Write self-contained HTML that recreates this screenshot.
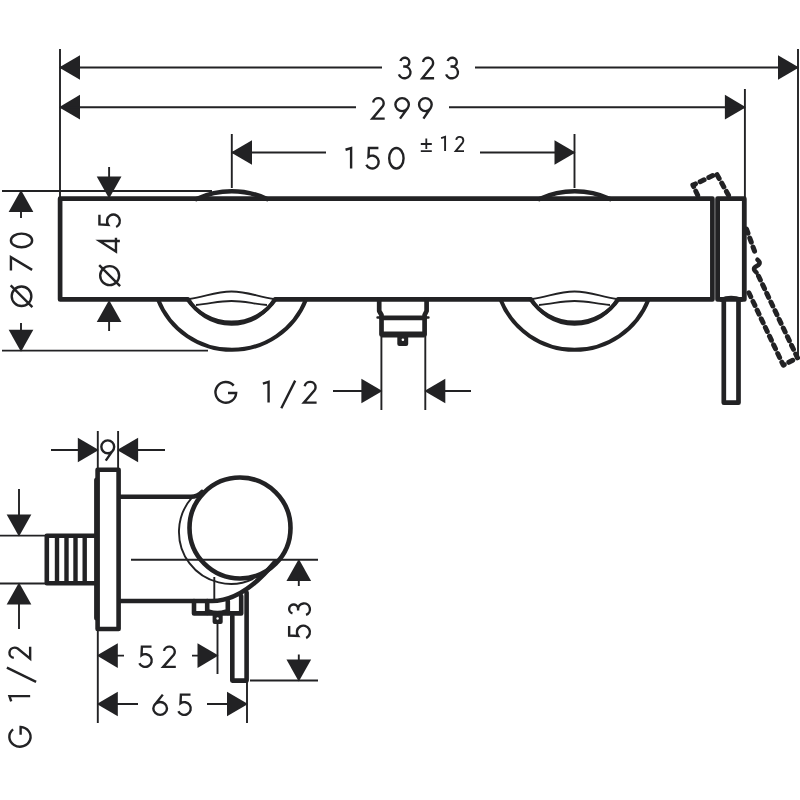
<!DOCTYPE html>
<html><head><meta charset="utf-8">
<style>
html,body{margin:0;padding:0;background:#fff;}
svg{display:block;}
text{font-family:"Liberation Sans",sans-serif;fill:#222224;}
</style></head>
<body>
<svg width="800" height="800" viewBox="0 0 800 800">
<rect width="800" height="800" fill="#fff"/>
<g fill="#222224" stroke="none">
  <path transform="translate(60,67.5)" d="M-1,0 L20,-12.35 L20,12.35 Z"/>
  <path transform="translate(798,67.5)" d="M1,0 L-20,-12.35 L-20,12.35 Z"/>
  <path transform="translate(60,107.2)" d="M-1,0 L20,-12.35 L20,12.35 Z"/>
  <path transform="translate(744.9,107.2)" d="M1,0 L-20,-12.35 L-20,12.35 Z"/>
  <path transform="translate(232,152.5)" d="M-1,0 L20,-12.35 L20,12.35 Z"/>
  <path transform="translate(574.5,152.5)" d="M1,0 L-20,-12.35 L-20,12.35 Z"/>
  <path transform="translate(21,191)" d="M0,-1 L-12.35,21 L12.35,21 Z"/>
  <path transform="translate(21,350.8)" d="M0,1 L-12.35,-21 L12.35,-21 Z"/>
  <path transform="translate(109.1,197.5)" d="M0,1 L-12.35,-21 L12.35,-21 Z"/>
  <path transform="translate(109.1,301)" d="M0,-1 L-12.35,21 L12.35,21 Z"/>
  <path transform="translate(381.4,391)" d="M1,0 L-20,-12.35 L-20,12.35 Z"/>
  <path transform="translate(425.3,391)" d="M-1,0 L20,-12.35 L20,12.35 Z"/>
  <path transform="translate(97.8,450)" d="M1,0 L-20,-12.35 L-20,12.35 Z"/>
  <path transform="translate(118.1,450)" d="M-1,0 L20,-12.35 L20,12.35 Z"/>
  <path transform="translate(19,535.5)" d="M0,1 L-12.35,-21 L12.35,-21 Z"/>
  <path transform="translate(19,583.5)" d="M0,-1 L-12.35,21 L12.35,21 Z"/>
  <path transform="translate(97.8,655.6)" d="M-1,0 L20,-12.35 L20,12.35 Z"/>
  <path transform="translate(217.5,655.6)" d="M1,0 L-20,-12.35 L-20,12.35 Z"/>
  <path transform="translate(97.8,704)" d="M-1,0 L20,-12.35 L20,12.35 Z"/>
  <path transform="translate(247,704)" d="M1,0 L-20,-12.35 L-20,12.35 Z"/>
  <path transform="translate(298.8,560)" d="M0,-1 L-12.35,21 L12.35,21 Z"/>
  <path transform="translate(298.8,680.5)" d="M0,1 L-12.35,-21 L12.35,-21 Z"/>
</g>

<!-- thin lines -->
<g stroke="#222224" stroke-width="1.9" fill="none">
  <path d="M60,49V199 M798,49V356 M744.9,89V199 M231.8,134V188 M574.5,134V188"/>
  <path d="M2,191H212 M2,350.6H208"/>
  <path d="M60,67.5H382 M475,67.5H798 M60,107.2H356 M449,107.2H744.9 M232,152.5H326 M480,152.5H574.5"/>
  <path d="M21,211V218 M21,323V331 M109.1,167V178 M109.1,321V331"/>
  <path d="M381.4,334V410 M425.3,334V410 M333,391H362 M444,391H471"/>
  <path d="M97.8,431V468 M118.1,431V468 M51,450H78 M138,450H165"/>
  <path d="M0,535.6H45 M0,583.5H45 M19,489V516 M19,603V629"/>
  <path d="M97.8,630V723 M217.5,623V674 M247,682V723"/>
  <path d="M117,655.6H124 M192,655.6H198 M117,704H138 M207,704H227"/>
  <path d="M298.8,578V586 M298.8,654.5V662 M250,680.5H318"/>
  <path d="M131,559.8H318 M214.3,577V601"/>
</g>

<!-- thick outlines top view -->
<g stroke="#222224" stroke-width="4.7" fill="none" stroke-linejoin="round" stroke-linecap="round">
  <path d="M187.5,299.4 H60.1 V198.7 H712.4 V299.4 H618.5 M530.5,299.4 H275.5"/>
  <!-- knob 1 -->
  <path d="M196.5,199 A84.5,84.5 0 0 1 267,199" stroke-width="4.6"/>
  <path d="M158,299.4 A79.5,79.5 0 0 0 306,299.4" stroke-width="4"/>
  <path d="M187.5,299.4 A53.45,53.45 0 0 0 275.5,299.4" stroke-width="3.8"/>
  <path d="M188.5,299.4 A50,50 0 0 0 274.5,299.4" stroke-width="3.8"/>
  <!-- knob 2 -->
  <path d="M539.5,199 A84.5,84.5 0 0 1 610,199" stroke-width="4.6"/>
  <path d="M500.5,299.4 A79.5,79.5 0 0 0 648.5,299.4" stroke-width="4"/>
  <path d="M530.5,299.4 A53.45,53.45 0 0 0 618.5,299.4" stroke-width="3.8"/>
  <path d="M531.5,299.4 A50,50 0 0 0 617.5,299.4" stroke-width="3.8"/>
  <!-- right rect -->
  <path d="M717.6,198.7 H744.3 V299.4 H717.6 Z" stroke-width="4.8"/>
  <path d="M721,299.8 Q731,295.5 741.5,299.8" stroke-width="4"/>
  <!-- lever stem -->
  <path d="M723.8,299.4 V402.7 H738.5 V299.4"/>
  <!-- pipe -->
  <path d="M379.2,299.4 V311 L381.5,315 V334.5 H424.6 V315 L426.6,311 V299.4"/>
  <path d="M381.5,334.6 H424.6" stroke-width="6" stroke-linecap="butt"/>
  <path d="M377.6,317.5 H381.5 M424.6,317.5 H428.4" stroke-width="2.6"/>
  <path d="M381.5,317.8 H424.6"/>
  <path d="M397.3,335 V344 Q397.3,346 399.3,346 H406.2 Q408.2,346 408.2,344 V335 Z" fill="#222224" stroke="none"/>
</g>
<circle cx="402.9" cy="339.8" r="1.3" fill="#fff"/>
<g stroke="#222224" stroke-width="1.8" fill="none">
  <path d="M189.5,299 C205,297 215,291.5 231.5,291.5 C248,291.5 258,297 273.5,299"/>
  <path d="M196,305 C210,304 218,301 231.5,301 C245,301 253,304 267,305"/>
  <path d="M532.5,299 C548,297 558,291.5 574.5,291.5 C591,291.5 601,297 616.5,299"/>
  <path d="M539,305 C553,304 561,301 574.5,301 C588,301 596,304 610,305"/>
</g>
<!-- dashed lever -->
<g stroke="#222224" stroke-width="5" fill="none" stroke-dasharray="4.4 5.2" stroke-linecap="round" stroke-linejoin="round">
  <path d="M697.7,195.2 L692.9,185.1 L716.5,173.8 L728.7,195.6"/>
  <path d="M746.5,229 L756.3,256"/>
  <path d="M757.5,259.8 C761.5,263 759,265 756,266.5 C752.5,268.5 754.5,271 756.5,272.5" stroke-dasharray="none" stroke-width="4.6"/>
  <path d="M758.5,276 L797.5,357.8 L783.3,365.2 L747.8,290.5"/>
</g>

<!-- side view thick -->
<g stroke="#222224" stroke-width="4.6" fill="none" stroke-linejoin="round" stroke-linecap="round">
  <path d="M97.6,469.7 H118.6 V629 H97.6 Z"/>
  <path d="M96.6,480 V618" stroke-width="5"/>
  <path d="M95,535.7 H46.8 V583.3 H95"/>
  <path d="M57,537V582 M66.5,537V582 M75.5,537V582 M84.7,537V582" stroke-width="4.4" stroke-linecap="butt"/>
  <path d="M120,496.8 H191 Q197.5,496.8 202,492"/>
  <circle cx="240" cy="528" r="50.5"/>
  <path d="M120,601 H212 C232,601 252,590 275,562"/>
  <!-- fitting -->
  <path d="M194,601 V613.4 H241.2 V596"/>
  <path d="M207.2,601 V613 M227.8,601 V613"/>
  <path d="M209.2,611 Q217.5,613.5 225.5,611" stroke-width="3"/>
  <path d="M212.6,614 V622 Q212.6,624 214.6,624 H220.7 Q222.7,624 222.7,622 V614 Z" fill="#222224" stroke="none"/>
  <!-- stem -->
  <path d="M232.3,616 V680.6 H246.6 V592.6"/>
</g>
<circle cx="217.6" cy="618.5" r="1.2" fill="#fff"/>
<g stroke="#222224" stroke-width="1.9" fill="none">
  <path d="M192.1,497.4 A52,52 0 0 0 253.3,578.9"/>
</g>

<!-- texts -->
<g fill="none" stroke="#222224" stroke-linecap="butt" stroke-linejoin="miter">
<path transform="translate(397.80,56.60) scale(1.0148,0.9913)" d="M2.6,4.45 A4.45,4.45 0 1 1 6.9,10.05 M5.3,10.05 H6.6 A5.9,5.9 0 1 1 1.06,17.97" stroke-width="2.4" vector-effect="non-scaling-stroke"/>
<path transform="translate(421.15,56.60) scale(0.9690,0.9913)" d="M1.93,5.49 A5.25,5.25 0 0 1 12.35,6.4 A5.25,5.25 0 0 1 11.4,9.41 L1.15,21.85 H13.35" stroke-width="2.4" vector-effect="non-scaling-stroke"/>
<path transform="translate(445.00,56.60) scale(1.0370,0.9913)" d="M2.6,4.45 A4.45,4.45 0 1 1 6.9,10.05 M5.3,10.05 H6.6 A5.9,5.9 0 1 1 1.06,17.97" stroke-width="2.4" vector-effect="non-scaling-stroke"/>
<path transform="translate(371.20,97.00) scale(1.0103,0.9891)" d="M1.93,5.49 A5.25,5.25 0 0 1 12.35,6.4 A5.25,5.25 0 0 1 11.4,9.41 L1.15,21.85 H13.35" stroke-width="2.4" vector-effect="non-scaling-stroke"/>
<path transform="translate(394.25,97.00) scale(0.9968,0.9891)" d="M7.9,1.15 A6.75,6.55 0 1 1 7.9,14.25 A6.75,6.55 0 1 1 7.9,1.15 Z M13.9,10.6 L5.8,21.85" stroke-width="2.4" vector-effect="non-scaling-stroke"/>
<path transform="translate(418.00,97.00) scale(0.9335,0.9891)" d="M7.9,1.15 A6.75,6.55 0 1 1 7.9,14.25 A6.75,6.55 0 1 1 7.9,1.15 Z M13.9,10.6 L5.8,21.85" stroke-width="2.4" vector-effect="non-scaling-stroke"/>
<path transform="translate(344.40,146.90) scale(0.9937,0.9870)" d="M1.15,2.9 L6.75,1.15 V21.85" stroke-width="2.4" vector-effect="non-scaling-stroke"/>
<path transform="translate(364.50,146.90) scale(0.9933,0.9870)" d="M14,1.15 H4.4 L4.02,10.03 A6.5,6.5 0 1 1 1.86,18.1" stroke-width="2.4" vector-effect="non-scaling-stroke"/>
<path transform="translate(388.00,146.90) scale(1.0340,0.9870)" d="M8.1,1.15 A6.95,10.35 0 1 1 8.1,21.85 A6.95,10.35 0 1 1 8.1,1.15 Z" stroke-width="2.4" vector-effect="non-scaling-stroke"/>
<path transform="translate(214.30,380.75) scale(1.0000,1.0000)" d="M19.4,4.85 A10.35,10.35 0 1 0 21.85,12.2 H13.7" stroke-width="2.4" vector-effect="non-scaling-stroke"/>
<path transform="translate(261.70,380.75) scale(1.0190,1.0000)" d="M1.15,2.9 L6.75,1.15 V21.85" stroke-width="2.4" vector-effect="non-scaling-stroke"/>
<path transform="translate(302.70,380.75) scale(1.0414,1.0000)" d="M1.93,5.49 A5.25,5.25 0 0 1 12.35,6.4 A5.25,5.25 0 0 1 11.4,9.41 L1.15,21.85 H13.35" stroke-width="2.4" vector-effect="non-scaling-stroke"/>
<path transform="translate(137.50,645.50) scale(1.0000,0.9783)" d="M14,1.15 H4.4 L4.02,10.03 A6.5,6.5 0 1 1 1.86,18.1" stroke-width="2.4" vector-effect="non-scaling-stroke"/>
<path transform="translate(162.00,645.50) scale(1.0345,0.9783)" d="M1.93,5.49 A5.25,5.25 0 0 1 12.35,6.4 A5.25,5.25 0 0 1 11.4,9.41 L1.15,21.85 H13.35" stroke-width="2.4" vector-effect="non-scaling-stroke"/>
<path transform="translate(152.50,693.50) scale(1.0408,0.9783)" d="M9.9,1.15 L1.41,12.53 M7.35,8.75 A6.55,6.55 0 1 1 7.35,21.85 A6.55,6.55 0 1 1 7.35,8.75 Z" stroke-width="2.4" vector-effect="non-scaling-stroke"/>
<path transform="translate(176.50,693.50) scale(1.0000,0.9783)" d="M14,1.15 H4.4 L4.02,10.03 A6.5,6.5 0 1 1 1.86,18.1" stroke-width="2.4" vector-effect="non-scaling-stroke"/>
<path transform="translate(100.25,439.25) scale(0.9494,0.9783)" d="M7.9,1.15 A6.75,6.55 0 1 1 7.9,14.25 A6.75,6.55 0 1 1 7.9,1.15 Z M13.9,10.6 L5.8,21.85" stroke-width="2.4" vector-effect="non-scaling-stroke"/>
<path transform="translate(440.30,136.10) scale(0.7089,0.6870)" d="M1.15,2.9 L6.75,1.15 V21.85" stroke-width="1.9" vector-effect="non-scaling-stroke"/>
<path transform="translate(454.90,136.10) scale(0.6828,0.6870)" d="M1.93,5.49 A5.25,5.25 0 0 1 12.35,6.4 A5.25,5.25 0 0 1 11.4,9.41 L1.15,21.85 H13.35" stroke-width="1.9" vector-effect="non-scaling-stroke"/>
<path d="M420.8,144 H431.8 M426.3,138.6 V148.9 M420.8,151.1 H431.8" stroke-width="1.8"/>
<path d="M281.3,408.2 L295.2,380.6" stroke-width="2.4"/>
<path transform="translate(9.75,248.40) rotate(-90) scale(0.9815,1.0239)" d="M8.1,1.15 A6.95,10.35 0 1 1 8.1,21.85 A6.95,10.35 0 1 1 8.1,1.15 Z" stroke-width="2.4" vector-effect="non-scaling-stroke"/>
<path transform="translate(9.75,271.50) rotate(-90) scale(0.9451,1.0239)" d="M1.15,1.15 H15.2 L1.7,21.85" stroke-width="2.4" vector-effect="non-scaling-stroke"/>
<path transform="translate(9.75,308.00) rotate(-90) scale(1.0217,1.0239)" d="M11.5,1.9 A9.6,9.6 0 1 1 11.5,21.1 A9.6,9.6 0 1 1 11.5,1.9 Z M0.9,22.1 L22.1,0.9" stroke-width="2.4" vector-effect="non-scaling-stroke"/>
<path transform="translate(98.30,228.90) rotate(-90) scale(1.0067,0.9870)" d="M14,1.15 H4.4 L4.02,10.03 A6.5,6.5 0 1 1 1.86,18.1" stroke-width="2.4" vector-effect="non-scaling-stroke"/>
<path transform="translate(98.30,252.80) rotate(-90) scale(1.0318,0.9870)" d="M11.5,21.85 V1.15 L1.15,17.9 H14.55" stroke-width="2.4" vector-effect="non-scaling-stroke"/>
<path transform="translate(98.30,287.00) rotate(-90) scale(0.9913,0.9870)" d="M11.5,1.9 A9.6,9.6 0 1 1 11.5,21.1 A9.6,9.6 0 1 1 11.5,1.9 Z M0.9,22.1 L22.1,0.9" stroke-width="2.4" vector-effect="non-scaling-stroke"/>
<path transform="translate(8.30,659.80) rotate(-90) scale(0.9862,1.0000)" d="M1.93,5.49 A5.25,5.25 0 0 1 12.35,6.4 A5.25,5.25 0 0 1 11.4,9.41 L1.15,21.85 H13.35" stroke-width="2.4" vector-effect="non-scaling-stroke"/>
<path transform="translate(8.30,702.40) rotate(-90) scale(0.9367,1.0000)" d="M1.15,2.9 L6.75,1.15 V21.85" stroke-width="2.4" vector-effect="non-scaling-stroke"/>
<path transform="translate(8.10,747.80) rotate(-90) scale(0.9522,1.0261)" d="M19.4,4.85 A10.35,10.35 0 1 0 21.85,12.2 H13.7" stroke-width="2.4" vector-effect="non-scaling-stroke"/>
<path transform="translate(288.00,615.90) rotate(-90) scale(1.0000,1.0043)" d="M2.6,4.45 A4.45,4.45 0 1 1 6.9,10.05 M5.3,10.05 H6.6 A5.9,5.9 0 1 1 1.06,17.97" stroke-width="2.4" vector-effect="non-scaling-stroke"/>
<path transform="translate(288.00,639.90) rotate(-90) scale(1.0000,1.0043)" d="M14,1.15 H4.4 L4.02,10.03 A6.5,6.5 0 1 1 1.86,18.1" stroke-width="2.4" vector-effect="non-scaling-stroke"/>
<path d="M6.9,667.6 L36.1,681.9" stroke-width="2.4"/>
</g>
</svg>
</body></html>
